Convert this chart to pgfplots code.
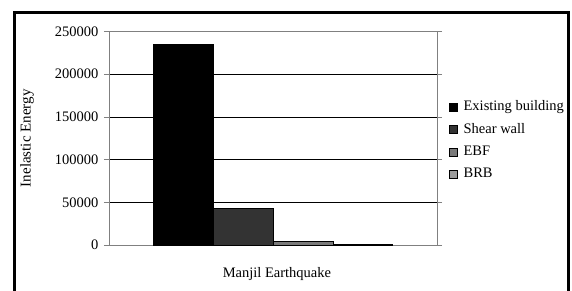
\documentclass[border=0pt]{standalone}
\usepackage{pgfplots}
\pgfplotsset{compat=1.18}
\usepackage{fontspec}
\setmainfont{Liberation Serif}
\definecolor{cshear}{HTML}{333333}
\definecolor{cebf}{HTML}{7A7A7A}
\definecolor{cbrb}{HTML}{9C9C9C}
\definecolor{cframe}{HTML}{808080}
\begin{document}
\fontsize{14.5pt}{17pt}\selectfont
\begin{tikzpicture}[x=1pt,y=1pt]
\useasboundingbox (0,0) rectangle (572,290);
\clip (0,0) rectangle (572,290);
\draw[line width=2.6pt] (14.5,-10) -- (14.5,277.5) -- (568.5,277.5) -- (568.5,-10);
\begin{axis}[
  at={(109pt,45pt)}, anchor=south west,
  scale only axis, width=328pt, height=213.5pt,
  ybar=0pt, bar width=59.75pt,
  xmin=-1, xmax=1, ymin=0, ymax=250000,
  xtick=\empty,
  ytick={0,50000,100000,150000,200000,250000},
  yticklabels={0,50000,100000,150000,200000,250000},
  scaled y ticks=false,
  ymajorgrids, grid style={black, line width=0.7pt},
  axis line style={cframe, line width=0.8pt},
  tick align=outside, major tick length=5pt,
  ytick style={cframe, line width=0.8pt},
  yticklabel style={font=\fontsize{14.5pt}{17pt}\selectfont, inner sep=5.5pt},
  ylabel={Inelastic Energy},
  ylabel style={at={(axis description cs:-0.25,0.5)}, anchor=center, rotate=0, font=\fontsize{15pt}{17pt}\selectfont},
  xlabel={Manjil Earthquake},
  xlabel style={at={(axis description cs:0.512,-0.136)}, anchor=center, font=\fontsize{14.5pt}{17pt}\selectfont},
  legend style={draw=none, fill=none, at={(1.036,0.49)}, anchor=west,
    font=\fontsize{14.5pt}{17pt}\selectfont, row sep=6.5pt, inner sep=0pt},
  legend cell align=left,
  legend image code/.code={\draw[#1, draw=black, line width=0.6pt] (0pt,-4pt) rectangle (8pt,4pt);},
  legend style={/tikz/every odd column/.append style={column sep=4pt}},
]
\addplot[fill=black, draw=black, line width=0.5pt] coordinates {(0,235500)};
\addplot[fill=cshear, draw=black, line width=0.5pt] coordinates {(0,43000)};
\addplot[fill=cebf, draw=black, line width=0.5pt] coordinates {(0,4000)};
\addplot[fill=cbrb, draw=black, line width=0.5pt] coordinates {(0,1300)};
\legend{Existing building, Shear wall, EBF, BRB}
\end{axis}
\end{tikzpicture}
\end{document}
